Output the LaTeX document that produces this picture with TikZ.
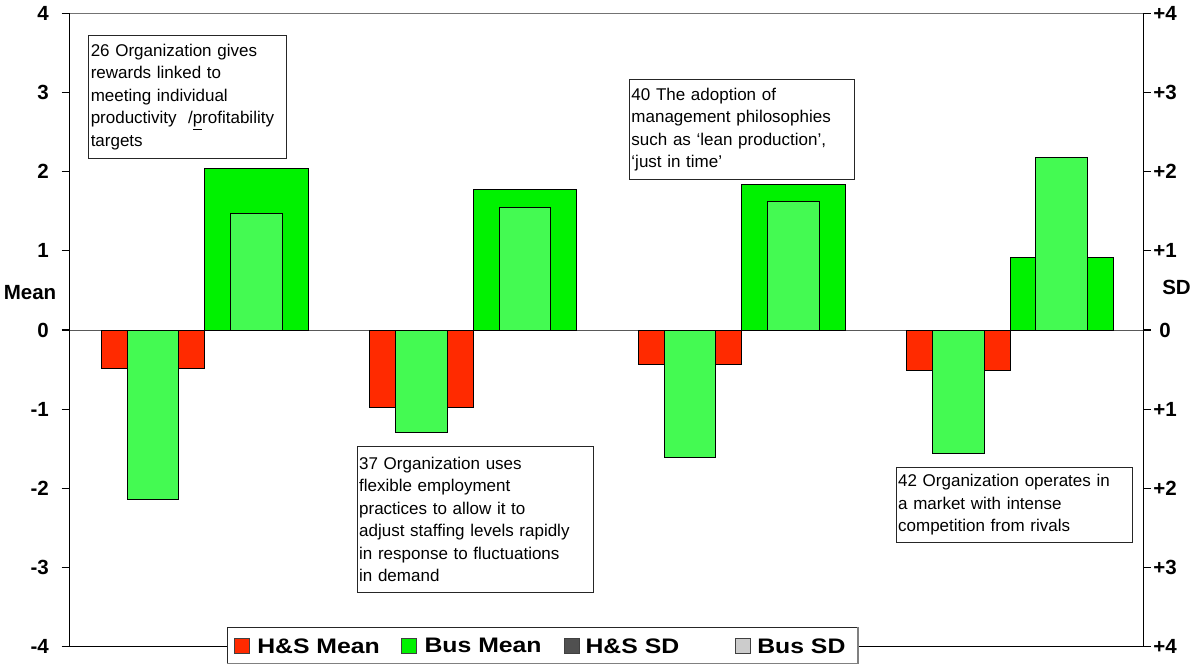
\documentclass[tikz,border=0pt]{standalone}
\usepackage{fontspec}
\setmainfont{Liberation Sans}
\usepackage{graphicx}
\usepackage{tikz}
\usetikzlibrary{positioning}

\definecolor{hsred}{RGB}{255,42,0}
\definecolor{busgreen}{RGB}{0,242,0}
\definecolor{sdgreen}{RGB}{68,250,82}
\definecolor{hsgray}{RGB}{80,80,80}
\definecolor{busgray}{RGB}{204,204,204}

\newcommand{\axfont}{\bfseries\fontsize{20.5}{20.5}\selectfont}
\newcommand{\legtext}[1]{\scalebox{1.18}[1]{#1}}

\tikzset{
   bar/.style={draw=black, line width=0.9pt},
   axisline/.style={draw=black, line width=1.1pt},
   ticklab/.style={font=\axfont, inner sep=0pt},
   notebox/.style={draw=black!85, line width=0.9pt, fill=white, align=left,
      inner xsep=2pt, inner ysep=0pt, anchor=north west},
   legsq/.style={draw=black!75, line width=0.8pt, minimum size=15pt, inner sep=0pt},
   legtxt/.style={font=\bfseries\fontsize{21}{21}\selectfont, inner sep=0pt}
}

\begin{document}
\begin{tikzpicture}[x=1pt, y=-1pt, font=\fontsize{17}{22.5}\selectfont]
   \useasboundingbox (0,0) rectangle (1192,664);

   \draw[black!65, line width=1pt] (69.7,330) -- (1143.3,330);

   \foreach \i/\hm/\hsd/\bm/\bsd in {0/-0.484/-2.14/2.044/1.475,
         1/-0.982/-1.29/1.779/1.546, 2/-0.434/-1.614/1.846/1.622,
         3/-0.506/-1.559/0.919/2.183}{
      \pgfmathsetmacro{\xa}{101.3+268.4*\i}
      \draw[bar, fill=hsred] (\xa,330) rectangle ({\xa+103.5},{330-79.1*\hm});
      \draw[bar, fill=sdgreen] ({\xa+25.9},330) rectangle ({\xa+77.6},{330-79.1*\hsd});
      \draw[bar, fill=busgreen] ({\xa+103.5},330) rectangle ({\xa+207},{330-79.1*\bm});
      \draw[bar, fill=sdgreen] ({\xa+129.4},330) rectangle ({\xa+181.1},{330-79.1*\bsd});
   }

   \draw[black!55, line width=1pt] (69.7,13.3) -- (1143.3,13.3);
   \draw[axisline] (69.7,13.3) -- (69.7,646.3) -- (1143.3,646.3) -- (1143.3,13.3);

   \foreach \v in {-4,...,4}{
      \draw[axisline] (61.7,{330-79.1*\v}) -- (69.7,{330-79.1*\v});
      \node[ticklab, anchor=east] (lm\v) at (49,{330-79.1*\v}) {\v};
   }
   \foreach \v/\t in {4/+4,3/+3,2/+2,1/+1,0/0,-1/+1,-2/+2,-3/+3,-4/+4}{
      \draw[axisline] (1143.3,{330-79.1*\v}) -- (1151,{330-79.1*\v});
      \node[ticklab] (rs\v) at (1165,{330-79.1*\v}) {\t};
   }
   \node[ticklab] (meanlab) at (30,293) {Mean};
   \node[ticklab] (sdlab) at (1176.5,287) {SD};

   \node[notebox, text width=193.4pt, minimum height=123.3pt] (q26) at (88.3,35)
      {26 Organization gives\\rewards linked to\\meeting individual\\
       productivity \ /\underline{p}rofitability\\targets};
   \node[notebox, text width=221.3pt, minimum height=99.4pt] (q40) at (629,79.3)
      {40 The adoption of\\management philosophies\\such as ‘lean production’,\\
       ‘just in time’};
   \node[notebox, text width=232.6pt, minimum height=145.7pt] (q37) at (356.7,446)
      {37 Organization uses\\flexible employment\\practices to allow it to\\
       adjust staffing levels rapidly\\in response to fluctuations\\in demand};
   \node[notebox, text width=232.6pt, minimum height=75pt] (q42) at (895.7,466.7)
      {42 Organization operates in\\a market with intense\\competition from rivals};

   \node[draw=black!85, line width=0.9pt, fill=white, minimum width=629.7pt,
      minimum height=36pt, inner sep=0pt, anchor=north west] (leg) at (227.3,627.3) {};
   \draw[black!50, line width=1.6pt] (leg.south west) -- (leg.south east) -- (leg.north east);

   \node[legsq, fill=hsred] (k1) at (241.8,645.8) {};
   \node[legtxt, right=7.4pt of k1] (t1) {\legtext{H\&S Mean}};
   \node[legsq, fill=busgreen] (k2) at (409.2,645.8) {};
   \node[legtxt, right=7.3pt of k2] (t2) {\legtext{Bus Mean}};
   \node[legsq, fill=hsgray] (k3) at (571.7,645.8) {};
   \node[legtxt, right=5.8pt of k3] (t3) {\legtext{H\&S SD}};
   \node[legsq, fill=busgray] (k4) at (742.5,645.8) {};
   \node[legtxt, right=6.7pt of k4] (t4) {\legtext{Bus SD}};
\end{tikzpicture}
\end{document}
